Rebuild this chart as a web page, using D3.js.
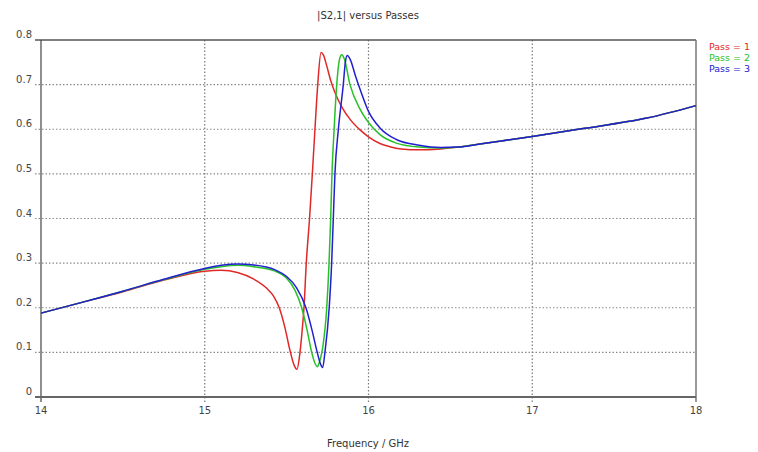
<!DOCTYPE html>
<html>
<head>
<meta charset="utf-8">
<script src="https://cdn.jsdelivr.net/npm/d3@7"></script>
<style>
body { margin: 0; background: #fff; }
text { font-family: "DejaVu Sans", Verdana, sans-serif; }
</style>
</head>
<body>
<svg width="758" height="452"></svg>
<script>
var svg = d3.select("svg");

var title = "|S2,1| versus Passes";
var xLabel = "Frequency / GHz";
var xTicks = [14, 15, 16, 17, 18];
var yTicks = [0, 0.1, 0.2, 0.3, 0.4, 0.5, 0.6, 0.7, 0.8];
var passNames = ["Pass = 1", "Pass = 2", "Pass = 3"];
var passColors = ["#e02828", "#28c028", "#2020d0"];

// frequency (GHz) / |S21|, one pair of arrays per pass
var freq1 = [14.0, 14.25, 14.5, 14.75, 15.0, 15.1, 15.2, 15.3, 15.38, 15.42, 15.455, 15.49, 15.52, 15.545, 15.563, 15.58, 15.595, 15.606, 15.62, 15.64, 15.657, 15.673, 15.69, 15.71, 15.725, 15.745, 15.77, 15.8, 15.84, 15.89, 15.95, 16.0, 16.07, 16.13, 16.2, 16.31, 16.44, 16.55, 16.68, 17.0, 17.3, 17.7, 18.0];
var s21_1 = [0.188, 0.212, 0.236, 0.262, 0.282, 0.284, 0.279, 0.264, 0.243, 0.226, 0.20, 0.155, 0.105, 0.072, 0.062, 0.095, 0.15, 0.20, 0.30, 0.40, 0.50, 0.60, 0.70, 0.772, 0.766, 0.742, 0.708, 0.678, 0.648, 0.621, 0.598, 0.583, 0.568, 0.561, 0.556, 0.554, 0.556, 0.56, 0.567, 0.584, 0.601, 0.625, 0.653];

var freq2 = [14.0, 14.25, 14.5, 14.75, 15.0, 15.1, 15.2, 15.3, 15.43, 15.5, 15.55, 15.592, 15.625, 15.653, 15.675, 15.688, 15.70, 15.72, 15.745, 15.759, 15.769, 15.777, 15.79, 15.806, 15.822, 15.836, 15.852, 15.887, 15.948, 16.0, 16.07, 16.17, 16.31, 16.44, 16.55, 16.68, 17.0, 17.3, 17.7, 18.0];
var s21_2 = [0.188, 0.212, 0.237, 0.263, 0.286, 0.292, 0.295, 0.292, 0.282, 0.266, 0.24, 0.20, 0.15, 0.10, 0.074, 0.068, 0.078, 0.11, 0.20, 0.30, 0.40, 0.50, 0.60, 0.70, 0.755, 0.767, 0.758, 0.70, 0.645, 0.615, 0.588, 0.569, 0.56, 0.558, 0.56, 0.567, 0.584, 0.601, 0.625, 0.653];

var freq3 = [14.0, 14.25, 14.5, 14.75, 15.0, 15.1, 15.2, 15.3, 15.43, 15.5, 15.56, 15.618, 15.655, 15.687, 15.705, 15.72, 15.734, 15.76, 15.775, 15.785, 15.795, 15.816, 15.846, 15.858, 15.87, 15.89, 15.92, 15.948, 16.0, 16.07, 16.17, 16.31, 16.44, 16.55, 16.68, 17.0, 17.3, 17.7, 18.0];
var s21_3 = [0.188, 0.212, 0.237, 0.264, 0.288, 0.295, 0.298, 0.296, 0.285, 0.27, 0.245, 0.20, 0.15, 0.10, 0.076, 0.066, 0.10, 0.20, 0.30, 0.40, 0.50, 0.60, 0.70, 0.748, 0.765, 0.755, 0.72, 0.69, 0.64, 0.603, 0.577, 0.564, 0.559, 0.56, 0.567, 0.584, 0.601, 0.625, 0.653];

var passes = [
    { x: freq1, y: s21_1 },
    { x: freq2, y: s21_2 },
    { x: freq3, y: s21_3 }
];

var plotLeft = 41, plotRight = 696, plotTop = 40, plotBottom = 397;

var x = d3.scaleLinear().domain([14, 18]).range([plotLeft, plotRight]);
var y = d3.scaleLinear().domain([0, 0.8]).range([plotBottom, plotTop]);

// dotted grid
svg.append("g").selectAll("line")
    .data(yTicks.filter(function(d){ return d > 0 && d < 0.8; }))
    .enter().append("line")
    .attr("x1", plotLeft - 6).attr("x2", plotRight)
    .attr("y1", function(d){ return y(d); })
    .attr("y2", function(d){ return y(d); })
    .attr("stroke", "#8a8a8a").attr("stroke-width", 1.2)
    .attr("stroke-dasharray", "1.5,2");

svg.append("g").selectAll("line")
    .data(xTicks.filter(function(d){ return d > 14 && d < 18; }))
    .enter().append("line")
    .attr("x1", function(d){ return x(d); })
    .attr("x2", function(d){ return x(d); })
    .attr("y1", plotTop).attr("y2", plotBottom + 5)
    .attr("stroke", "#7a7a7a").attr("stroke-width", 1.2)
    .attr("stroke-dasharray", "1.5,2");

// frame
svg.append("line").attr("x1", plotLeft - 6).attr("x2", plotRight).attr("y1", plotTop).attr("y2", plotTop)
    .attr("stroke", "#555").attr("stroke-width", 1.5);
svg.append("line").attr("x1", plotRight).attr("x2", plotRight).attr("y1", plotTop).attr("y2", plotBottom + 5)
    .attr("stroke", "#777").attr("stroke-width", 1.5);
svg.append("line").attr("x1", plotLeft).attr("x2", plotLeft).attr("y1", plotTop).attr("y2", plotBottom + 5)
    .attr("stroke", "#444").attr("stroke-width", 1.2);
svg.append("line").attr("x1", plotLeft - 6).attr("x2", plotRight).attr("y1", plotBottom).attr("y2", plotBottom)
    .attr("stroke", "#666").attr("stroke-width", 2);

// tick labels
svg.append("g").selectAll("text")
    .data(yTicks)
    .enter().append("text")
    .attr("x", plotLeft - 9)
    .attr("y", function(d){ return y(d) - 2; })
    .attr("text-anchor", "end")
    .attr("font-size", 10)
    .attr("fill", "#444")
    .text(function(d){ return d === 0 ? "0" : d3.format(".1f")(d); });

svg.append("g").selectAll("text")
    .data(xTicks)
    .enter().append("text")
    .attr("x", function(d){ return x(d); })
    .attr("y", plotBottom + 17)
    .attr("text-anchor", "middle")
    .attr("font-size", 10)
    .attr("fill", "#444")
    .text(function(d){ return d; });

svg.append("text")
    .attr("x", 368).attr("y", 19)
    .attr("text-anchor", "middle")
    .attr("font-size", 10)
    .attr("fill", "#333")
    .text(title);

svg.append("text")
    .attr("x", 368).attr("y", 447)
    .attr("text-anchor", "middle")
    .attr("font-size", 10)
    .attr("fill", "#333")
    .text(xLabel);

// curves
var line = d3.line()
    .x(function(d){ return x(d[0]); })
    .y(function(d){ return y(d[1]); })
    .curve(d3.curveMonotoneX);

svg.append("g").selectAll("path")
    .data(passes)
    .enter().append("path")
    .attr("fill", "none")
    .attr("stroke", function(d, i){ return passColors[i]; })
    .attr("stroke-width", 1.5)
    .attr("d", function(d){ return line(d3.zip(d.x, d.y)); });

// legend
svg.append("g").selectAll("text")
    .data(passNames)
    .enter().append("text")
    .attr("x", 709)
    .attr("y", function(d, i){ return 50 + i * 11; })
    .attr("font-size", 9.5)
    .attr("fill", function(d, i){ return passColors[i]; })
    .text(function(d){ return d; });
</script>
</body>
</html>
